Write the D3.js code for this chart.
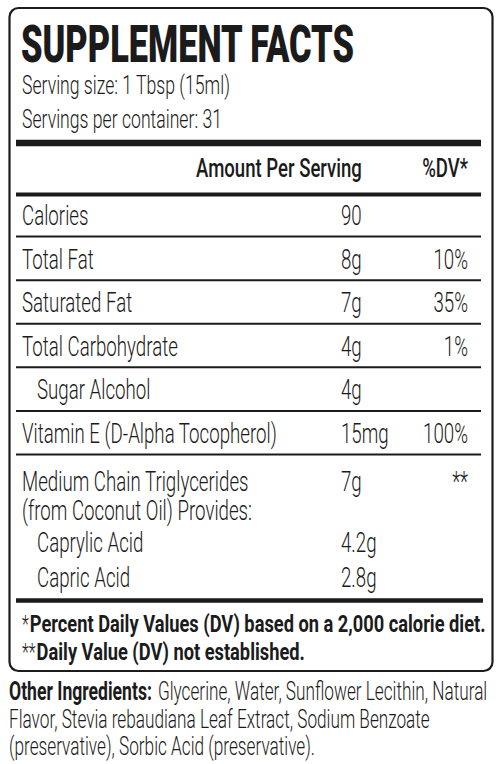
<!DOCTYPE html>
<html><head><meta charset="utf-8">
<script src="https://cdn.jsdelivr.net/npm/d3@7"></script>
<style>body{margin:0;background:#fff}</style></head>
<body><svg id="c" width="500" height="764"></svg>
<script>
// ---- data ----
const title = "SUPPLEMENT FACTS";
const servingInfo = ["Serving size: 1 Tbsp (15ml)", "Servings per container: 31"];
const headers = ["Amount Per Serving", "%DV*"];
const nutrients = ["Calories","Total Fat","Saturated Fat","Total Carbohydrate","Sugar Alcohol","Vitamin E (D-Alpha Tocopherol)"];
const amounts = ["90","8g","7g","4g","4g","15mg"];
const dvs = ["","10%","35%","1%","","100%"];
const indents = [0,0,0,0,1,0];
const mctLabel = ["Medium Chain Triglycerides","(from Coconut Oil) Provides:"];
const mctAmount = ["7g"];
const mctDV = ["**"];
const acids = ["Caprylic Acid","Capric Acid"];
const acidAmounts = ["4.2g","2.8g"];
const footMarks = ["*","**"];
const footTexts = ["Percent Daily Values (DV) based on a 2,000 calorie diet.","Daily Value (DV) not established."];
const otherLabel = "Other Ingredients:";
const otherLines = ["Glycerine, Water, Sunflower Lecithin, Natural","Flavor, Stevia rebaudiana Leaf Extract, Sodium Benzoate","(preservative), Sorbic Acid (preservative)."];

// ---- styles ----
const FONT = "Roboto, 'Noto Sans', 'DejaVu Sans', sans-serif";
const INK = "#1b1b1b";
const svg = d3.select("#c");

const styles = {
  title:  {size:52, weight:900, calib:[title,333]},
  row:    {size:28, weight:300, calib:["Vitamin E (D-Alpha Tocopherol)",255]},
  serv:   {size:26, weight:300, calib:["Serving size: 1 Tbsp (15ml)",208]},
  head:   {size:26, weight:500, calib:["Amount Per Serving",166]},
  foot:   {size:24, weight:700, calib:["Percent Daily Values (DV) based on a 2,000 calorie diet.",456]},
  footL:  {size:24, weight:300, calib:null},
  otherB: {size:26, weight:700, calib:["Other Ingredients:",143]},
  other:  {size:26, weight:300, calib:["Flavor, Stevia rebaudiana Leaf Extract, Sodium Benzoate",421]}
};
// calibrate horizontal compression so the condensed label font is approximated
Object.values(styles).forEach(st=>{
  if(!st.calib){st.sx=null;return;}
  const t = svg.append("text").attr("font-family",FONT).attr("font-size",st.size)
    .attr("font-weight",st.weight).text(st.calib[0]);
  const w = t.node().getComputedTextLength();
  t.remove();
  st.sx = st.calib[1]/w;
});
styles.footL.sx = styles.row.sx;

function txt(g, x, y, s, st, anchor){
  return g.append("text")
    .attr("transform",`translate(${x},${y}) scale(${st.sx},1)`)
    .attr("font-family",FONT).attr("font-size",st.size).attr("font-weight",st.weight)
    .attr("fill",INK).attr("text-anchor",anchor||"start").text(s);
}
function hline(y, x0, x1, w){
  svg.append("line").attr("x1",x0).attr("x2",x1).attr("y1",y).attr("y2",y)
    .attr("stroke",INK).attr("stroke-width",w);
}

// box
svg.append("rect").attr("x",9.5).attr("y",8).attr("width",483).attr("height",663)
  .attr("rx",9).attr("fill","none").attr("stroke",INK).attr("stroke-width",2.2);

const g = svg.append("g");
const xLabel = 22, xIndent = 37, xAmt = 341, xDV = 468;
const lineX0 = 16, lineX1 = 481;

// title + serving info
txt(g, 21, 62, title, styles.title);
const servY = d3.scaleLinear().domain([0,1]).range([94,128]);
servingInfo.forEach((s,i)=>txt(g, xLabel, servY(i), s, styles.serv));
hline(143, lineX0, lineX1, 6.5);

// header
txt(g, 196, 177, headers[0], styles.head);
txt(g, xDV, 177, headers[1], styles.head, "end");
hline(194.5, lineX0, lineX1, 4);

// nutrient rows
const rowY = d3.scaleLinear().domain([0, nutrients.length]).range([193, 454.5]);
nutrients.forEach((n,i)=>{
  const base = rowY(i+1) - 11.5;
  txt(g, indents[i] ? xIndent : xLabel, base, n, styles.row);
  txt(g, xAmt, base, amounts[i], styles.row);
  if(dvs[i]) txt(g, xDV, base, dvs[i], styles.row, "end");
  hline(rowY(i+1), lineX0, lineX1, 2);
});

// MCT block
const mctY = d3.scaleLinear().domain([0,1]).range([491,520]);
mctLabel.forEach((s,i)=>txt(g, xLabel, mctY(i), s, styles.row));
txt(g, xAmt, mctY(0), mctAmount[0], styles.row);
txt(g, xDV, mctY(0), mctDV[0], styles.row, "end");
const acidY = d3.scaleLinear().domain([0,1]).range([552,587]);
acids.forEach((s,i)=>{
  txt(g, xIndent, acidY(i), s, styles.row);
  txt(g, xAmt, acidY(i), acidAmounts[i], styles.row);
});
hline(600.5, lineX0, 483, 4.5);

// footnotes
const footY = d3.scaleLinear().domain([0,1]).range([632,660]);
footMarks.forEach((m,i)=>{
  const t = txt(g, xLabel, footY(i), m, styles.footL);
  const w = t.node().getComputedTextLength()*styles.footL.sx;
  txt(g, xLabel + w + 1, footY(i), footTexts[i], styles.foot);
});

// other ingredients
const othY = d3.scaleLinear().domain([0,2]).range([700,755]);
const lb = txt(g, 9, othY(0), otherLabel, styles.otherB);
const lw = lb.node().getComputedTextLength()*styles.otherB.sx;
otherLines.forEach((s,i)=>txt(g, i===0 ? 9 + lw + 6 : 9, othY(i), s, styles.other));
</script>
</body></html>
